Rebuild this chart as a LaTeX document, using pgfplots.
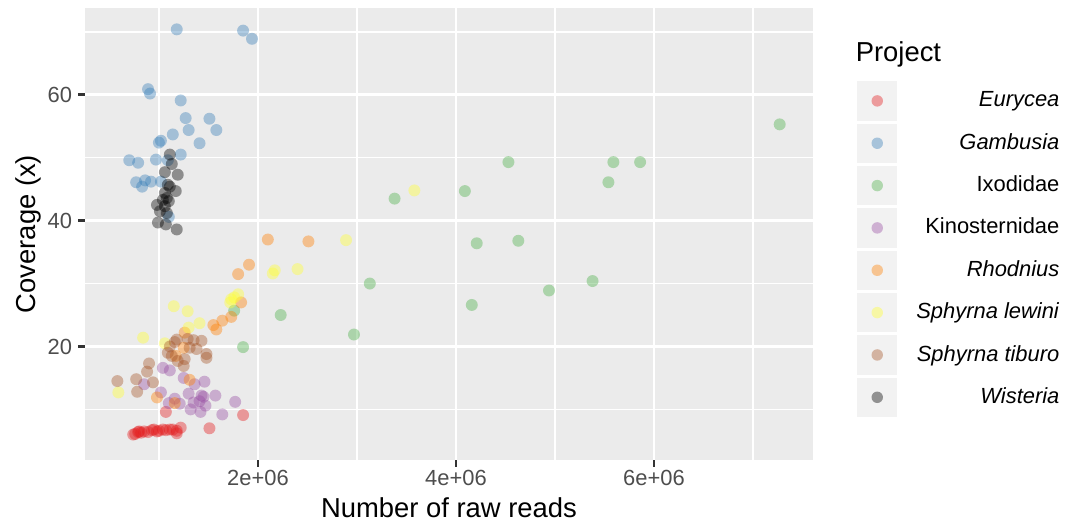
\documentclass[border=0pt]{standalone}
\usepackage{fontspec}
\setmainfont{Liberation Sans}
\usepackage{pgfplots}
\pgfplotsset{compat=1.18}

\definecolor{cEur}{HTML}{E41A1C}
\definecolor{cGam}{HTML}{377EB8}
\definecolor{cIxo}{HTML}{4DAF4A}
\definecolor{cKin}{HTML}{984EA3}
\definecolor{cRho}{HTML}{FF7F00}
\definecolor{cLew}{HTML}{FFFF33}
\definecolor{cTib}{HTML}{A65628}
\definecolor{cWis}{HTML}{000000}
\definecolor{panelbg}{HTML}{EBEBEB}
\definecolor{keybg}{HTML}{F2F2F2}
\definecolor{tickc}{HTML}{333333}
\definecolor{labc}{HTML}{4D4D4D}

\pgfplotsset{
  proj/.style={only marks, mark=*, mark size=2.4pt,
    mark options={draw opacity=0, fill=#1, fill opacity=0.4},
    legend image code/.code={
      \path[fill=keybg, draw=none] (0pt,-7.9pt) rectangle (16.2pt,7.9pt);
      \path[fill=#1, fill opacity=0.4, draw=none] (8.1pt,0pt) circle (2.3pt);}},
}

\begin{document}
\begin{tikzpicture}
\begin{axis}[
    at={(0,0)}, anchor=south west,
    width=292.3pt, height=181.5pt, scale only axis,
    xmin=252500, xmax=7606000, ymin=1.95, ymax=73.8,
    axis background/.style={fill=panelbg},
    axis line style={draw=none},
    xtick={2000000,4000000,6000000}, xticklabels={2e+06,4e+06,6e+06},
    ytick={20,40,60},
    minor xtick={1000000,3000000,5000000,7000000},
    minor ytick={10,30,50,70},
    grid=both,
    major grid style={white, line width=1.07pt},
    minor grid style={white, line width=0.53pt},
    tick align=outside, major tick length=2.75pt, minor tick length=0pt,
    tick style={color=tickc, line width=1.07pt},
    xtick pos=lower, ytick pos=left,
    scaled x ticks=false,
    /pgf/number format/assume math mode=true,
    ticklabel style={font=\fontsize{8.8}{10}\selectfont, text=labc, inner sep=0pt},
    xticklabel shift=1.2pt, yticklabel shift=2.2pt,
    xlabel={Number of raw reads}, ylabel={Coverage (x)},
    label style={font=\fontsize{11}{13}\selectfont},
    xlabel style={at={([yshift=-22.9pt]axis description cs:0.5,0)}, anchor=base},
    ylabel style={at={([xshift=-20pt]axis description cs:0,0.5)}, anchor=base, rotate=0},
    legend style={at={(1.0606,0.838)}, anchor=north west, draw=none, fill=none,
      inner sep=0pt, outer sep=0pt, row sep=1.2pt,
      font=\fontsize{8.8}{10}\selectfont,
      /tikz/every odd column/.append style={column sep=5.6pt}},
    legend cell align=right,
]
% Eurycea
\addplot[proj=cEur] coordinates {
 (740000,6.0) (760000,6.1) (790000,6.4) (800000,6.5) (820000,6.3) (850000,6.5)
 (890000,6.4) (930000,6.7) (950000,6.8) (980000,6.5) (1000000,6.6) (1040000,6.8)
 (1070000,6.7) (1110000,6.8) (1140000,6.8) (1180000,6.6) (1180000,6.2) (1220000,7.1)
 (1510000,7.0) (1070000,9.6) (1850000,9.1)
};
\addlegendentry{\textit{Eurycea}}
% Gambusia
\addplot[proj=cGam] coordinates {
 (1180000,70.4) (1850000,70.2) (1940000,68.9) (890000,60.9) (910000,60.2)
 (1220000,59.1) (1270000,56.3) (1510000,56.2) (1300000,54.4) (1580000,54.4)
 (1140000,53.7) (1020000,52.7) (1000000,52.4) (1410000,52.3) (1220000,50.5)
 (700000,49.6) (790000,49.2) (970000,49.7) (1090000,49.6) (770000,46.1)
 (860000,46.4) (830000,45.4) (920000,46.2) (1020000,46.2) (1100000,40.6)
};
\addlegendentry{\textit{Gambusia}}
% Ixodidae
\addplot[proj=cIxo] coordinates {
 (4530000,49.3) (5590000,49.3) (5860000,49.3) (5540000,46.1) (4090000,44.7)
 (3380000,43.5) (4210000,36.4) (4630000,36.8) (3130000,30.0) (5380000,30.4)
 (4940000,28.9) (4160000,26.6) (2230000,25.0) (2970000,21.9) (1760000,25.7)
 (1850000,19.9) (7270000,55.3)
};
\addlegendentry{Ixodidae}
% Kinosternidae
\addplot[proj=cKin] coordinates {
 (1040000,16.6) (1110000,16.2) (1250000,15.0) (1360000,14.0) (1460000,14.4)
 (850000,14.0) (1020000,12.7) (1300000,12.5) (1570000,12.2) (1450000,12.0)
 (1430000,12.2) (1160000,11.7) (1410000,11.3) (1770000,11.2) (1100000,11.0)
 (1210000,10.9) (1470000,10.6) (1350000,11.1) (1320000,10.0) (1420000,9.6)
 (1640000,9.2)
};
\addlegendentry{Kinosternidae}
% Rhodnius
\addplot[proj=cRho] coordinates {
 (2100000,37.0) (2510000,36.7) (1910000,33.0) (1800000,31.5) (1830000,27.0)
 (1730000,24.7) (1640000,24.1) (1550000,23.4) (1580000,22.7) (1260000,22.2)
 (1250000,19.8) (1170000,18.5) (1310000,14.7) (980000,11.9) (1160000,11.0)
};
\addlegendentry{\textit{Rhodnius}}
% Sphyrna lewini
\addplot[proj=cLew] coordinates {
 (2890000,36.9) (3580000,44.8) (2170000,32.1) (2150000,31.6) (2400000,32.3)
 (1800000,28.3) (1760000,27.8) (1730000,27.5) (1720000,27.0) (1150000,26.4)
 (1290000,25.6) (1410000,23.7) (1300000,23.0) (840000,21.4) (1060000,20.5)
 (590000,12.7)
};
\addlegendentry{\textit{Sphyrna lewini}}
% Sphyrna tiburo
\addplot[proj=cTib] coordinates {
 (580000,14.5) (770000,14.8) (780000,12.8) (900000,17.3) (880000,16.0)
 (940000,14.3) (1160000,20.7) (1350000,21.0) (1430000,20.9) (1310000,19.8)
 (1380000,19.6) (1090000,19.0) (1130000,18.5) (1480000,18.8) (1480000,18.2)
 (1190000,17.7) (1260000,18.0) (1250000,16.9) (1290000,21.2) (1180000,21.1)
 (1110000,20.0)
};
\addlegendentry{\textit{Sphyrna tiburo}}
% Wisteria
\addplot[proj=cWis] coordinates {
 (1110000,50.5) (1130000,49.0) (1190000,47.3) (1060000,47.7) (1090000,45.7)
 (1110000,45.4) (1170000,44.7) (1060000,44.4) (1080000,43.6) (1040000,43.3)
 (1100000,43.1) (980000,42.5) (1060000,42.3) (1010000,41.5) (1080000,41.2)
 (990000,39.7) (1070000,39.4) (1180000,38.6)
};
\addlegendentry{\textit{Wisteria}}
\end{axis}
\node[anchor=base west, inner sep=0pt, font=\fontsize{11}{13}\selectfont] at (309.3pt,160.2pt) {Project};
\pgfresetboundingbox
\path[use as bounding box] (-34.1pt,-25.3pt) rectangle (397.9pt,184.7pt);
\end{tikzpicture}
\end{document}
